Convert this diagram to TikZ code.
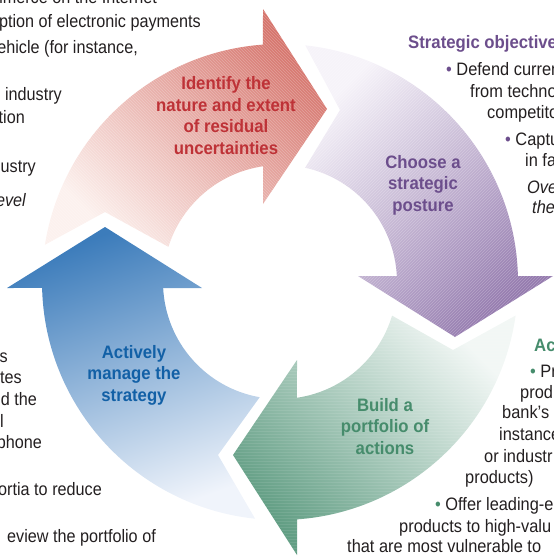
\documentclass[tikz,border=0pt]{standalone}
\usepackage{fontspec}
\setmainfont{Liberation Sans}
\newfontfamily\fL{Liberation Sans}[FakeStretch=0.9]
\newfontfamily\fR{Liberation Sans}[FakeStretch=0.91]
\newfontfamily\fB{Liberation Sans}[FakeStretch=0.93]
\usetikzlibrary{patterns}
\definecolor{txtgray}{RGB}{35,31,32}
\definecolor{redtxt}{RGB}{190,50,55}
\definecolor{purtxt}{RGB}{108,78,140}
\definecolor{grntxt}{RGB}{70,140,108}
\definecolor{blutxt}{RGB}{18,96,166}
\definecolor{redD}{RGB}{214,116,108}
\definecolor{redL}{RGB}{252,241,238}
\definecolor{purD}{RGB}{148,122,174}
\definecolor{purL}{RGB}{246,243,249}
\definecolor{grnD}{RGB}{98,158,132}
\definecolor{grnL}{RGB}{242,247,245}
\definecolor{bluD}{RGB}{60,124,187}
\definecolor{bluL}{RGB}{240,244,251}
\tikzset{
  lbl/.style={font=\fB\bfseries\fontsize{18}{21.5}\selectfont, align=center, inner sep=0pt},
  txtL/.style={font=\fL\fontsize{18}{21}\selectfont, inner sep=0pt, anchor=base east, text=txtgray},
  txtR/.style={font=\fR\fontsize{18}{21}\selectfont, inner sep=0pt, anchor=base west, text=txtgray},
  itL/.style={txtL, font=\fL\itshape\fontsize{18}{21}\selectfont},
  itR/.style={txtR, font=\fR\itshape\fontsize{18}{21}\selectfont},
  headR/.style={txtR, font=\fB\bfseries\fontsize{18}{21}\selectfont},
  hatchfill/.style={pattern=#1, pattern color=white}
}
\def\pRed{(171:238pt) arc[start angle=171, end angle=94.1, radius=238pt]
    -- (-17pt,273pt) -- (47pt,173pt) -- (-17pt,78pt) -- (98.35:117pt)
    arc[start angle=98.35, end angle=162.5, radius=117pt] -- (-175pt,70pt) -- cycle}
\def\pPur{(83.9:238pt) arc[start angle=83.9, end angle=1.44, radius=238pt]
    -- (273pt,6pt) -- (175pt,-55pt) -- (78pt,6pt) -- (2.94:117pt)
    arc[start angle=2.94, end angle=77.6, radius=117pt] -- (60pt,172pt) -- cycle}
\def\pGrn{(-8.1:238pt) arc[start angle=-8.1, end angle=-85.9, radius=238pt]
    -- (17pt,-273pt) -- (-47pt,-173pt) -- (17pt,-78pt) -- (-81.65:117pt)
    arc[start angle=-81.65, end angle=-16.7, radius=117pt] -- (173pt,-68pt) -- cycle}
\def\pBlu{(264:238pt) arc[start angle=264, end angle=181.44, radius=238pt]
    -- (-273pt,-6pt) -- (-175pt,55pt) -- (-78pt,-6pt) -- (182.94:117pt)
    arc[start angle=182.94, end angle=260, radius=117pt] -- (-62pt,-173pt) -- cycle}
\begin{document}
\begin{tikzpicture}[x=1pt,y=1pt]
\useasboundingbox (0,0) rectangle (554,-557);
\clip (0,0) rectangle (554,-557);
\begin{scope}[shift={(280,-282)}]
  \shade[top color=redD, bottom color=redL, shading angle=-45] \pRed;
  \shade[top color=purD, bottom color=purL, shading angle=-135] \pPur;
  \shade[top color=grnD, bottom color=grnL, shading angle=135] \pGrn;
  \shade[top color=bluD, bottom color=bluL, shading angle=20] \pBlu;
  \begin{scope}[transparency group, opacity=0.25]
    \fill[hatchfill=north west lines] \pRed;
    \fill[hatchfill=north east lines] \pPur;
    \fill[hatchfill=horizontal lines] \pGrn;
  \end{scope}
\end{scope}

% arrow labels
\node[lbl, text=redtxt] (lred) at (226,-115.5) {Identify the\\nature and extent\\of residual\\uncertainties};
\node[lbl, text=purtxt] (lpur) at (423,-185) {Choose a\\strategic\\posture};
\node[lbl, text=grntxt] (lgrn) at (385,-426.5) {Build a\\portfolio of\\actions};
\node[lbl, text=blutxt] (lblu) at (134,-375) {Actively\\manage the\\strategy};

% left top text
\node[txtL] (t1) at (157,-3) {mmerce on the Internet};
\node[txtL] (t2) at (201,-27.7) {ption of electronic payments};
\node[txtL] (t3) at (138,-53) {ehicle (for instance,};
\node[txtL] (t4) at (62,-100) {industry};
\node[txtL] (t5) at (25,-123) {tion};
\node[txtL] (t6) at (36,-172) {ustry};
\node[itL] (t7) at (26,-206) {evel};

% left bottom text
\node[txtL] (b1) at (8,-362) {s};
\node[txtL] (b2) at (22,-383) {tes};
\node[txtL] (b3) at (37,-405) {d the};
\node[txtL] (b4) at (4,-427) {l};
\node[txtL] (b5) at (42,-448) {phone};
\node[txtL] (b6) at (102,-495) {ortia to reduce};
\node[txtL] (b7) at (156,-542) {eview the portfolio of};

% right top text
\node[headR, text=purtxt] (r0) at (408,-48) {Strategic objective};
\node[txtR] (r1) at (446,-75) {{\color{purtxt}•} Defend curren};
\node[txtR] (r2) at (470,-97) {from techno};
\node[txtR] (r3) at (487,-118) {competito};
\node[txtR] (r4) at (505,-145) {{\color{purtxt}•} Captu};
\node[txtR] (r5) at (525,-166) {in fa};
\node[itR] (r6) at (527,-193) {Ove};
\node[itR] (r7) at (532,-213) {the};

% right bottom text
\node[headR, text=grntxt] (s0) at (534,-351) {Ac};
\node[txtR] (s1) at (530,-377) {{\color{grntxt}•} Pr};
\node[txtR] (s2) at (520,-398) {prod};
\node[txtR] (s3) at (502,-418) {bank’s};
\node[txtR] (s4) at (499,-440) {instance};
\node[txtR] (s5) at (484,-462) {or industr};
\node[txtR] (s6) at (465,-483) {products)};
\node[txtR] (s7) at (435,-510) {{\color{grntxt}•} Offer leading-e};
\node[txtR] (s8) at (399,-532) {products to high-valu};
\node[txtR] (s9) at (347,-552) {that are most vulnerable to};
\end{tikzpicture}
\end{document}
